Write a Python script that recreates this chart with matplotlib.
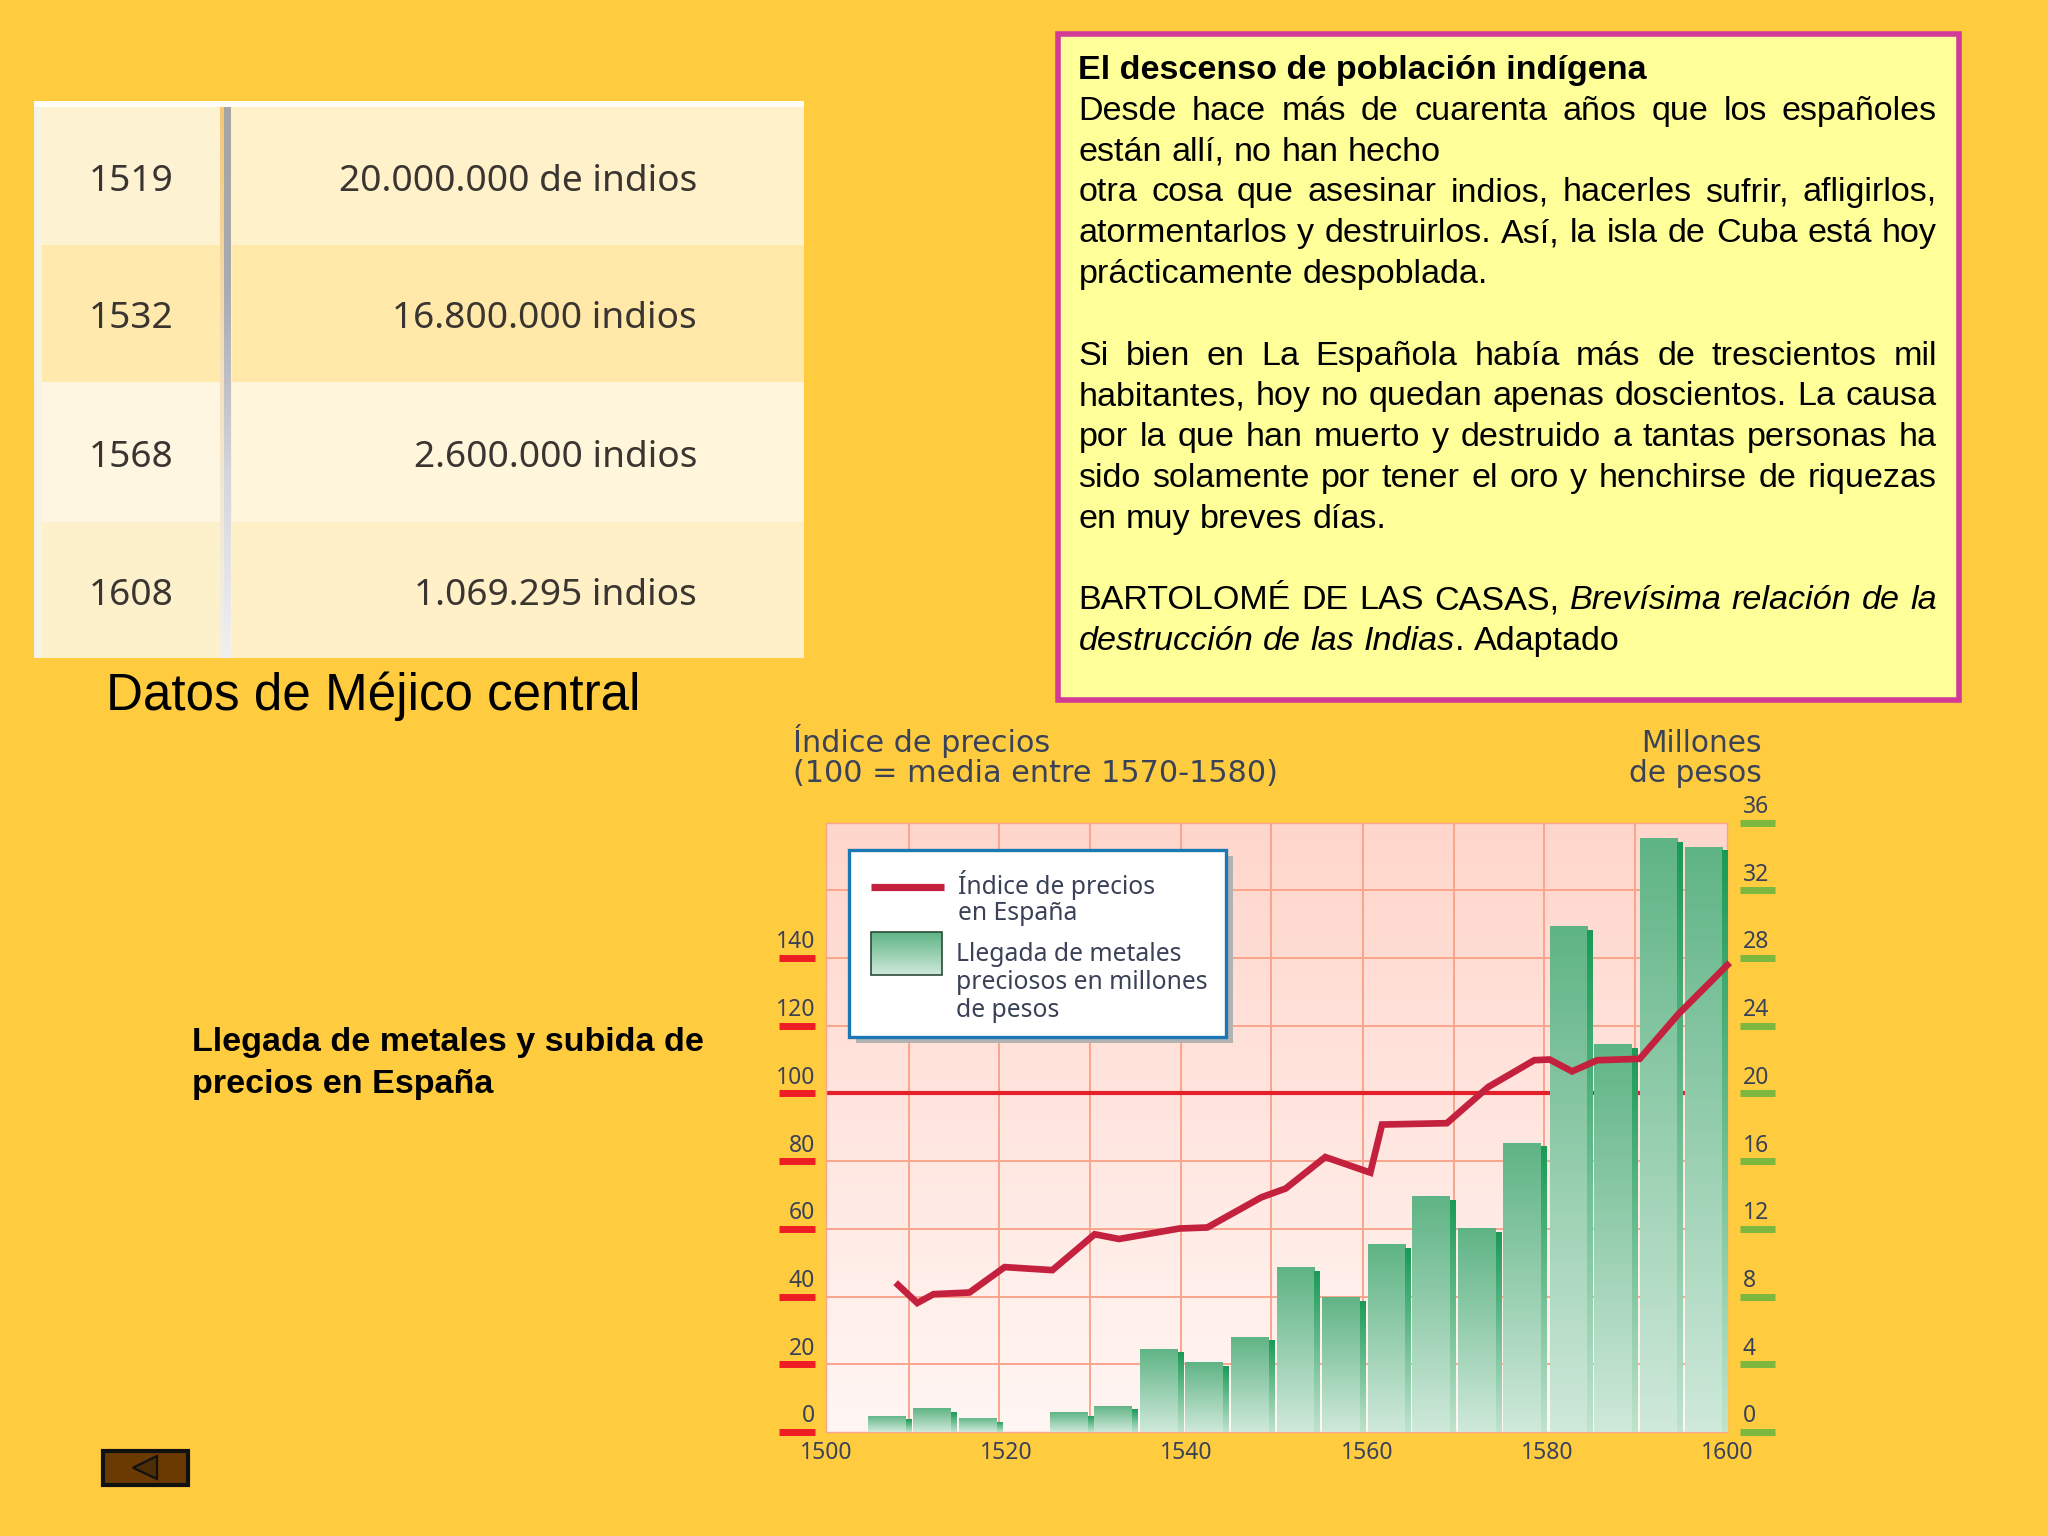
import numpy as np
import matplotlib
matplotlib.use("Agg")
import matplotlib.pyplot as plt
from matplotlib.colors import LinearSegmentedColormap
from matplotlib.patches import Rectangle, Polygon
from matplotlib.transforms import ScaledTranslation

# ---------- data ----------
BAR_YEARS = [1507.0, 1512.0, 1517.1, 1527.2, 1532.1, 1537.2, 1542.2, 1547.3, 1552.4,
             1557.4, 1562.5, 1567.4, 1572.5, 1577.5, 1582.7, 1587.6, 1592.7, 1597.7]
METALS = [0.97, 1.40, 0.83, 1.17, 1.55, 4.92, 4.12, 5.64, 9.73,
          7.98, 11.08, 13.94, 12.02, 17.09, 29.88, 22.92, 35.09, 34.57]
LINE_YEARS = [1507.7, 1510.1, 1511.9, 1515.9, 1519.8, 1525.1, 1529.8, 1532.5, 1539.2, 1542.3,
              1548.3, 1551.0, 1555.4, 1560.4, 1561.7, 1568.9, 1573.5, 1578.6, 1580.3, 1582.8,
              1585.6, 1590.3, 1594.6, 1600.3]
PRICES = [44.1, 38.1, 40.7, 41.2, 48.7, 47.8, 58.4, 57.0, 60.1, 60.4,
          69.3, 71.9, 81.2, 76.6, 90.8, 91.2, 101.9, 109.8, 110.0, 106.5,
          109.8, 110.2, 123.4, 138.6]
GRID_YEARS = [1509.2, 1519.2, 1529.3, 1539.4, 1549.4, 1559.6, 1569.7, 1579.7, 1589.8]
X_TICKS = [1500, 1520, 1540, 1560, 1580, 1600]
LEFT_TICKS = [0, 20, 40, 60, 80, 100, 120, 140]
RIGHT_TICKS = [0, 4, 8, 12, 16, 20, 24, 28, 32, 36]
LEFT_GRID = [20, 40, 60, 80, 100, 120, 140, 160]

TABLE_YEARS = ["1519", "1532", "1568", "1608"]
TABLE_VALUES = ["20.000.000 de indios", "16.800.000 indios", "2.600.000 indios", "1.069.295 indios"]
TABLE_COLOURS = ["#fff1c9", "#ffe8a8", "#fff6dc", "#fff0c8"]
TABLE_LEFT_COLOURS = ["#fdf2d2", "#ffe9ad", "#fff6e2", "#fdf1cc"]

BOX_TITLE = "El descenso de población indígena"
BOX_LINES = [
    (1, 1, "Desde hace más de cuarenta años que los españoles"),
    (2, 0, "están allí, no han hecho"),
    (3, 1, "otra cosa que asesinar indios, hacerles sufrir, afligirlos,"),
    (4, 1, "atormentarlos y destruirlos. Así, la isla de Cuba está hoy"),
    (5, 0, "prácticamente despoblada."),
    (7, 1, "Si bien en La Española había más de trescientos mil"),
    (8, 1, "habitantes, hoy no quedan apenas doscientos. La causa"),
    (9, 1, "por la que han muerto y destruido a tantas personas ha"),
    (10, 1, "sido solamente por tener el oro y henchirse de riquezas"),
    (11, 0, "en muy breves días."),
    (13, 1, "BARTOLOMÉ DE LAS CASAS, ~Brevísima ~relación ~de ~la"),
    (14, 0, "~destrucción ~de ~las ~Indias|. Adaptado"),
]

BG = "#ffcb3f"
INK = "#3a4258"
GRIDC = "#f9a58c"
SANS = "Liberation Sans"
TICKF = "Noto Sans"

fig = plt.figure(figsize=(20.48, 15.36), dpi=100, facecolor=BG)
W, H = 2048, 1536

# ---------- chart axes ----------
L, R, T, B = 826.3, 1727, 822.5, 1432
pos = [L / W, 1 - B / H, (R - L) / W, (B - T) / H]
ax = fig.add_axes(pos, zorder=1)
ax.set_xlim(1500, 1600)
ax.set_ylim(0, 180)
bgcm = LinearSegmentedColormap.from_list("bg", ["#fff6f4", "#ffd6cb"])
ax.imshow(np.linspace(1, 0, 256).reshape(-1, 1), cmap=bgcm, aspect="auto",
          extent=[1500, 1600, 0, 180], zorder=0)
ax.vlines(GRID_YEARS, 0, 180, color=GRIDC, lw=1.4, zorder=1)
ax.hlines(LEFT_GRID, 1500, 1600, color=GRIDC, lw=1.4, zorder=1)
ax.hlines(100, 1500, 1600, color="#e4202c", lw=3, zorder=2)
ax.set_xticks(X_TICKS)
ax.set_yticks(LEFT_TICKS)
ax.set_xticklabels([str(v) for v in X_TICKS], fontname=TICKF, fontsize=16.5, color=INK)
ax.set_yticklabels([str(v) for v in LEFT_TICKS], fontname=TICKF, fontsize=16.5, color=INK)
ax.tick_params(axis="both", length=0)
ax.tick_params(axis="y", pad=8)
ax.tick_params(axis="x", pad=6.5)
up = ScaledTranslation(0, 18.5 / 100, fig.dpi_scale_trans)
for lab in ax.get_yticklabels():
    lab.set_transform(lab.get_transform() + up)
for s in ax.spines.values():
    s.set_color(GRIDC)
    s.set_linewidth(1.0)
# red tick marks
ax.hlines(LEFT_TICKS, -0.053, -0.012, transform=ax.get_yaxis_transform(),
          color="#ee1c25", lw=5, clip_on=False, zorder=3)

ax_m = ax.twinx()
ax_m.set_zorder(2)
ax_m.patch.set_visible(False)
ax_m.set_ylim(0, 36)
ax_m.set_yticks(RIGHT_TICKS)
ax_m.set_yticklabels([str(v) for v in RIGHT_TICKS], fontname=TICKF, fontsize=16.5, color=INK)
ax_m.tick_params(axis="y", length=0, pad=11.5)
for lab in ax_m.get_yticklabels():
    lab.set_transform(lab.get_transform() + up)
for s in ax_m.spines.values():
    s.set_visible(False)
ax_m.hlines(RIGHT_TICKS, 1.014, 1.053, transform=ax_m.get_yaxis_transform(),
            color="#7cb83f", lw=5, clip_on=False)

face = LinearSegmentedColormap.from_list("face", ["#cfe9da", "#5fb485"])
side = LinearSegmentedColormap.from_list("side", ["#bfe3cd", "#1a9a56"])
grad = np.linspace(1, 0, 128).reshape(-1, 1)
for yr, v in zip(BAR_YEARS, METALS):
    b1 = ax_m.bar(yr - 2.4, v, width=4.2, align="edge", color="none", linewidth=0, zorder=2)[0]
    im = ax_m.imshow(grad, cmap=face, aspect="auto", extent=[yr - 2.4, yr + 1.8, 0, v], zorder=2)
    im.set_clip_path(b1)
    b2 = ax_m.bar(yr + 1.8, v - 0.22, width=0.6, align="edge", color="none", linewidth=0, zorder=2)[0]
    im2 = ax_m.imshow(grad, cmap=side, aspect="auto", extent=[yr + 1.8, yr + 2.4, 0, v - 0.22], zorder=2)
    im2.set_clip_path(b2)
ax_m.set_xlim(1500, 1600)
ax_m.set_ylim(0, 36)

ax_l = ax.twinx()
ax_l.set_zorder(3)
ax_l.patch.set_visible(False)
ax_l.set_ylim(0, 180)
ax_l.set_yticks([])
for s in ax_l.spines.values():
    s.set_visible(False)
ax_l.plot(LINE_YEARS, PRICES, color="#c4213f", lw=4.8, solid_joinstyle="miter",
          solid_capstyle="butt", clip_on=False)
ax_l.set_xlim(1500, 1600)

# ---------- overlay in pixel coordinates ----------
a0 = fig.add_axes([0, 0, 1, 1], zorder=5)
a0.set_xlim(0, W)
a0.set_ylim(H, 0)
a0.axis("off")
a0.patch.set_visible(False)


def rect(x0, y0, x1, y1, **kw):
    p = Rectangle((x0, y0), x1 - x0, y1 - y0, **kw)
    a0.add_patch(p)
    return p


# table
rect(34, 101, 804, 658, fc="#fffdf5", ec="none")
rect(34, 107, 42, 658, fc="#f6f3e4", ec="none")
ROWS = [107, 245, 382, 522, 658]
for i in range(4):
    rect(42, ROWS[i], 220, ROWS[i + 1], fc=TABLE_LEFT_COLOURS[i], ec="none")
    rect(232, ROWS[i], 804, ROWS[i + 1], fc=TABLE_COLOURS[i], ec="none")
    cy = (ROWS[i] + ROWS[i + 1]) / 2 + 6
    a0.text(131, cy, TABLE_YEARS[i], ha="center", va="center", fontname=TICKF, fontsize=26.7, color="#3a3530")
    a0.text(697, cy, TABLE_VALUES[i], ha="right", va="center", fontname=TICKF, fontsize=26.7, color="#3a3530")
barcm = LinearSegmentedColormap.from_list("b", ["#f0f0f0", "#d4d6dc", "#a9abb0", "#a5a5a5"])
a0.imshow(np.linspace(0, 1, 64).reshape(-1, 1), cmap=barcm, aspect="auto",
          extent=[224, 231, 658, 107], origin="lower", zorder=2)
edgecm = LinearSegmentedColormap.from_list("e", ["#f2efe8", "#f3e2c2", "#f6c878"])
a0.imshow(np.linspace(0, 1, 64).reshape(-1, 1), cmap=edgecm, aspect="auto",
          extent=[220, 224, 658, 107], origin="lower", zorder=2)
rect(231, 107, 232, 658, fc="#f4f1ea", ec="none")
a0.set_xlim(0, W)
a0.set_ylim(H, 0)
a0.text(106, 696, "Datos de Méjico central", ha="left", va="center", fontname=SANS, fontsize=36.8, color="black")

# quote box
rect(1058, 34, 1959, 700, fc="#ffff99", ec="#d23a97", lw=4)
BX0, BX1 = 1078.5, 1937
BASE, STEP = 79, 40.8
FS = 24.55
a0.text(BX0, BASE, BOX_TITLE, fontname=SANS, fontsize=FS, fontweight="bold", color="black", va="baseline")
rend = fig.canvas.get_renderer()


def seg_width(s, style):
    t = a0.text(0, 0, s, fontname=SANS, fontsize=FS, fontstyle=style)
    w = t.get_window_extent(rend).width
    t.remove()
    return w


space = seg_width("n n", "normal") - seg_width("nn", "normal")
for idx, just, line in BOX_LINES:
    words = []
    for w in line.split(" "):
        segs = []
        for part in w.split("|"):
            it = part.startswith("~")
            segs.append((part[1:] if it else part, "italic" if it else "normal"))
        words.append(segs)
    widths = [sum(seg_width(s, st) for s, st in ws) for ws in words]
    gap = (BX1 - BX0 - sum(widths)) / (len(words) - 1) if just else space
    x = BX0
    y = BASE + STEP * idx
    for ws, wd in zip(words, widths):
        xx = x
        for s, st in ws:
            a0.text(xx, y, s, fontname=SANS, fontsize=FS, fontstyle=st, color="black", va="baseline")
            xx += seg_width(s, st)
        x += wd + gap

# side title
a0.text(192, 1043, "Llegada de metales y subida de", fontname=SANS, fontsize=FS, fontweight="bold", va="center", color="black")
a0.text(192, 1084, "precios en España", fontname=SANS, fontsize=FS, fontweight="bold", va="center", color="black")

# chart headings
a0.text(793, 741, "Índice de precios", fontname="DejaVu Sans", fontsize=21.8, color=INK, va="center")
a0.text(793, 773.5, "(100 = media entre 1570-1580)", fontname="DejaVu Sans", fontsize=21.8, color=INK, va="center")
a0.text(1762, 743, "Millones", fontname="DejaVu Sans", fontsize=21.3, color=INK, va="center", ha="right")
a0.text(1762, 773.5, "de pesos", fontname="DejaVu Sans", fontsize=21.3, color=INK, va="center", ha="right")

# legend
rect(856, 856, 1233, 1043, fc="#b3b3b3", ec="none")
rect(849, 850, 1226, 1037, fc="white", ec="#1a78b4", lw=2.4)
a0.plot([871, 944], [887, 887], color="#c4213f", lw=5.2, solid_capstyle="butt")
swatch = rect(871, 932, 942, 975, fc="none", ec="#2b4a3a", lw=1.2, zorder=3)
im = a0.imshow(np.linspace(0, 1, 64).reshape(-1, 1), cmap=face, aspect="auto",
               extent=[871, 942, 975, 932], origin="lower", zorder=2)
a0.set_xlim(0, W)
a0.set_ylim(H, 0)
for txt, x, y in [("Índice de precios", 958, 885), ("en España", 958, 913.5),
                  ("Llegada de metales", 956, 954.5), ("preciosos en millones", 956, 982.5),
                  ("de pesos", 956, 1010.5)]:
    a0.text(x, y, txt, fontname=TICKF, fontsize=17.8, color=INK, va="center")

# back button
rect(103, 1451, 188, 1485, fc="#6b3a02", ec="#111111", lw=3)
a0.add_patch(Polygon([(133, 1467.7), (157, 1456), (157, 1479)], closed=True, fc="#4f2e05", ec="#111111", lw=1.6))

fig.savefig("out.png", dpi=100, facecolor=BG)
